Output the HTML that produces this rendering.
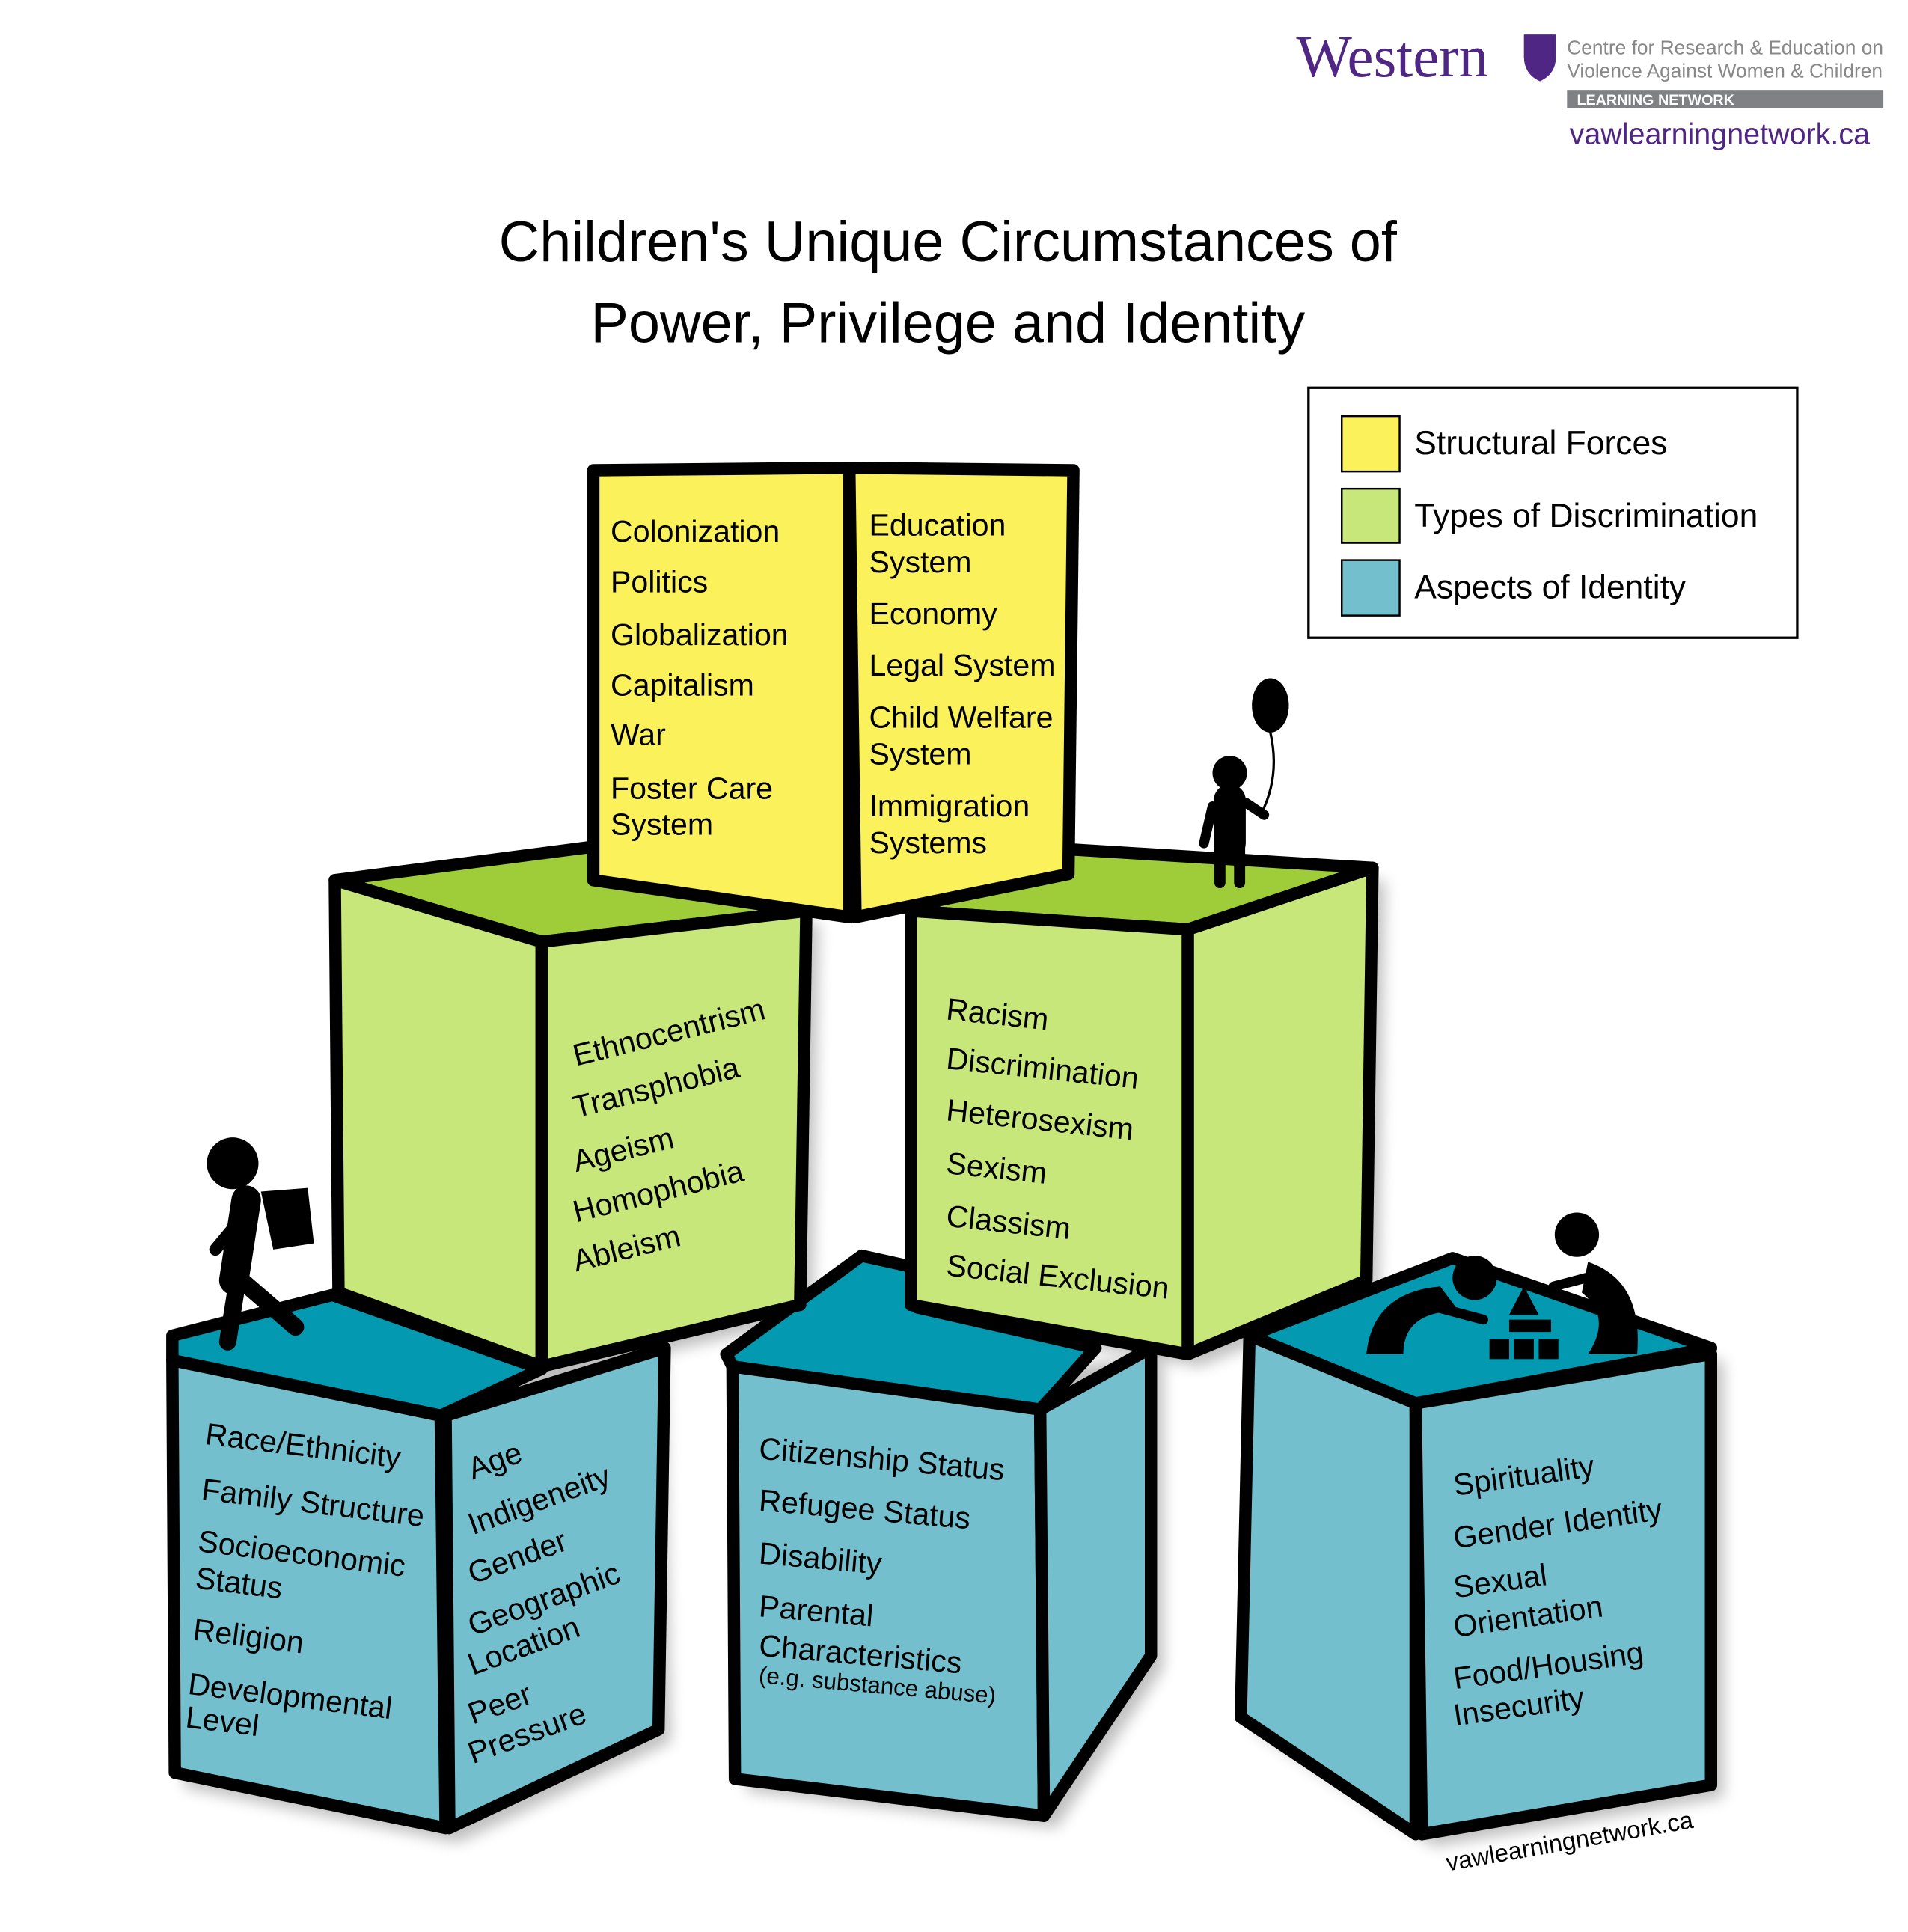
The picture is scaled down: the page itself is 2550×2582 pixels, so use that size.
<!DOCTYPE html>
<html><head><meta charset="utf-8"><style>
html,body{margin:0;padding:0;background:#fff;}
svg{display:block;}
text{font-family:"Liberation Sans",sans-serif;}
</style></head><body>
<svg width="2550" height="2582" viewBox="0 0 1550 1569.4" xmlns="http://www.w3.org/2000/svg">
<defs><filter id="sh" x="-10%" y="-10%" width="130%" height="130%"><feGaussianBlur stdDeviation="6"/></filter></defs>
<rect width="1550" height="1570" fill="#fff"/>
<!-- logo -->
<text x="1053" y="62" style="font-family:'Liberation Serif',serif" font-size="48" fill="#4f2683">Western</text>
<path d="M1238 28 h26 v18 q0 14 -13 20 q-13 -6 -13 -20z" fill="#4f2683"/>
<text x="1273" y="44" font-size="16" fill="#888">Centre for Research &amp; Education on</text>
<text x="1273" y="63" font-size="16" fill="#888">Violence Against Women &amp; Children</text>
<rect x="1273" y="73" width="257" height="15" fill="#808184"/>
<text x="1281" y="85" font-size="12" font-weight="bold" fill="#fff">LEARNING NETWORK</text>
<text x="1275" y="117" font-size="24" fill="#4f2683">vawlearningnetwork.ca</text>
<!-- title -->
<text x="770" y="212" font-size="46" text-anchor="middle" fill="#000">Children's Unique Circumstances of</text>
<text x="770" y="278" font-size="46" text-anchor="middle" fill="#000">Power, Privilege and Identity</text>
<!-- legend -->
<rect x="1063" y="315" width="397" height="203" fill="#fff" stroke="#000" stroke-width="2"/>
<rect x="1090" y="338" width="47" height="45" fill="#fbf15a" stroke="#000" stroke-width="1.5"/>
<rect x="1090" y="397" width="47" height="44" fill="#c8e77a" stroke="#000" stroke-width="1.5"/>
<rect x="1090" y="455" width="47" height="45" fill="#74bfcd" stroke="#000" stroke-width="1.5"/>
<text x="1149" y="369" font-size="27">Structural Forces</text>
<text x="1149" y="428" font-size="27">Types of Discrimination</text>
<text x="1149" y="486" font-size="27">Aspects of Identity</text>
<!-- shadows -->
<g fill="#000" opacity="0.25" filter="url(#sh)">
<path d="M150 1115 L540 1105 L545 1415 L372 1497 L150 1452z"/>
<path d="M605 1120 L945 1105 L945 1355 L858 1485 L607 1455z"/>
<path d="M1020 1095 L1400 1105 L1400 1460 L1165 1500 L1018 1405z"/>
<path d="M282 725 L665 750 L660 1070 L450 1120 L285 1060z"/>
<path d="M750 750 L1125 715 L1120 1050 L975 1110 L750 1070z"/>
</g>
<g stroke="#000" stroke-width="10" stroke-linejoin="round">
<path d="M140 1085 L270 1052 L440 1112 L358 1150 L140 1105z" fill="#0399b0"/>
<path d="M140 1105 L358 1150 L362 1485 L142 1440z" fill="#74bfcd"/>
<path d="M362 1150 L540 1095 L535 1405 L365 1485z" fill="#74bfcd"/>
<path d="M590 1100 L700 1020 L745 1030 L745 1062 L890 1095 L845 1145 L595 1110z" fill="#0399b0"/>
<path d="M595 1110 L845 1145 L848 1475 L597 1445z" fill="#74bfcd"/>
<path d="M845 1145 L935 1095 L935 1345 L848 1475z" fill="#74bfcd"/>
<path d="M1015 1085 L1180 1022 L1390 1095 L1150 1140z" fill="#0399b0"/>
<path d="M1015 1085 L1150 1140 L1150 1490 L1008 1395z" fill="#74bfcd"/>
<path d="M1150 1140 L1390 1100 L1390 1450 L1155 1490z" fill="#74bfcd"/>
<path d="M272 715 L480 688 L655 740 L440 765z" fill="#9fcd3a"/>
<path d="M272 715 L440 765 L440 1110 L275 1050z" fill="#c8e77a"/>
<path d="M440 765 L655 740 L650 1060 L440 1110z" fill="#c8e77a"/>
<path d="M740 740 L870 690 L1115 705 L965 755z" fill="#9fcd3a"/>
<path d="M740 740 L965 755 L965 1100 L740 1060z" fill="#c8e77a"/>
<path d="M965 755 L1115 705 L1110 1040 L965 1100z" fill="#c8e77a"/>
<path d="M482 382 L690 380 L690 745 L482 715z" fill="#fbf15a"/>
<path d="M690 380 L872 382 L868 710 L695 745z" fill="#fbf15a"/>
</g>
<g font-size="25">
<text x="496" y="440">Colonization</text><text x="496" y="481">Politics</text><text x="496" y="524">Globalization</text><text x="496" y="565">Capitalism</text><text x="496" y="605">War</text><text x="496" y="649">Foster Care</text><text x="496" y="678">System</text>
<text x="706" y="435">Education</text><text x="706" y="465">System</text><text x="706" y="507">Economy</text><text x="706" y="549">Legal System</text><text x="706" y="591">Child Welfare</text><text x="706" y="621">System</text><text x="706" y="663">Immigration</text><text x="706" y="693">Systems</text>
</g>
<g font-size="25">
<text transform="translate(468,866) rotate(-14)">Ethnocentrism</text>
<text transform="translate(468,908) rotate(-14)">Transphobia</text>
<text transform="translate(468,952) rotate(-14)">Ageism</text>
<text transform="translate(468,993) rotate(-14)">Homophobia</text>
<text transform="translate(468,1033) rotate(-14)">Ableism</text>
<text transform="translate(768,828) rotate(6)">Racism</text>
<text transform="translate(768,868) rotate(6)">Discrimination</text>
<text transform="translate(768,910) rotate(6)">Heterosexism</text>
<text transform="translate(768,953) rotate(6)">Sexism</text>
<text transform="translate(768,996) rotate(6)">Classism</text>
<text transform="translate(768,1036) rotate(6)">Social Exclusion</text>
<text transform="translate(166,1173) rotate(7)">Race/Ethnicity</text>
<text transform="translate(163,1218) rotate(7)">Family Structure</text>
<text transform="translate(160,1260) rotate(7)">Socioeconomic</text>
<text transform="translate(158,1290) rotate(7)">Status</text>
<text transform="translate(156,1332) rotate(7)">Religion</text>
<text transform="translate(152,1376) rotate(7)">Developmental</text>
<text transform="translate(150,1403) rotate(7)">Level</text>
<text transform="translate(384,1202) rotate(-20)">Age</text>
<text transform="translate(384,1247) rotate(-20)">Indigeneity</text>
<text transform="translate(384,1287) rotate(-20)">Gender</text>
<text transform="translate(384,1329) rotate(-20)">Geographic</text>
<text transform="translate(384,1361) rotate(-20)">Location</text>
<text transform="translate(384,1401) rotate(-20)">Peer</text>
<text transform="translate(384,1433) rotate(-20)">Pressure</text>
<text transform="translate(616,1185) rotate(5)">Citizenship Status</text>
<text transform="translate(616,1227) rotate(5)">Refugee Status</text>
<text transform="translate(616,1270) rotate(5)">Disability</text>
<text transform="translate(616,1313) rotate(5)">Parental</text>
<text transform="translate(616,1345) rotate(5)">Characteristics</text>
<text transform="translate(616,1367) rotate(5)" font-size="19">(e.g. substance abuse)</text>
<text transform="translate(1182,1215) rotate(-8)">Spirituality</text>
<text transform="translate(1182,1258) rotate(-8)">Gender Identity</text>
<text transform="translate(1182,1298) rotate(-8)">Sexual</text>
<text transform="translate(1182,1330) rotate(-8)">Orientation</text>
<text transform="translate(1182,1372) rotate(-8)">Food/Housing</text>
<text transform="translate(1182,1402) rotate(-8)">Insecurity</text>
</g>
<text transform="translate(1176,1520) rotate(-10)" font-size="20">vawlearningnetwork.ca</text>
<g fill="#000" stroke="#000" stroke-linecap="round">
<circle cx="189" cy="945" r="21" stroke="none"/>
<path d="M212 968 L250 965 L255 1010 L222 1015z" stroke="none"/>
<path d="M200 975 L190 1040" stroke-width="24" fill="none"/>
<path d="M193 1040 L185 1090 M196 1040 L240 1078" stroke-width="14" fill="none"/>
<path d="M200 985 L175 1015" stroke-width="10" fill="none"/>
<ellipse cx="1032" cy="573" rx="15" ry="22" stroke="none"/>
<path d="M1032 595 Q1040 630 1025 660" stroke-width="2" fill="none"/>
<circle cx="999" cy="628" r="14" stroke="none"/>
<path d="M999 650 L999 685" stroke-width="26" fill="none"/>
<path d="M991 685 L991 717 M1007 685 L1007 717" stroke-width="9" fill="none"/>
<path d="M985 655 L978 685 M1012 652 L1027 662" stroke-width="8" fill="none"/>
<circle cx="1198" cy="1038" r="18" stroke="none"/>
<path d="M1110 1100 Q1115 1050 1170 1045 L1185 1065 Q1140 1065 1140 1100z" stroke="none"/>
<path d="M1160 1060 L1205 1072" stroke-width="8" fill="none"/>
<circle cx="1281" cy="1003" r="18" stroke="none"/>
<path d="M1290 1025 Q1335 1040 1330 1100 L1290 1100 Q1310 1070 1285 1050z" stroke="none"/>
<path d="M1262 1045 L1300 1035" stroke-width="8" fill="none"/>
<path d="M1238 1045 L1250 1068 L1226 1068z" stroke="none"/>
<rect x="1226" y="1072" width="34" height="10" stroke="none"/>
<rect x="1210" y="1088" width="16" height="16" stroke="none"/>
<rect x="1230" y="1088" width="16" height="16" stroke="none"/>
<rect x="1250" y="1088" width="16" height="16" stroke="none"/>
</g>
</svg>
</body></html>
